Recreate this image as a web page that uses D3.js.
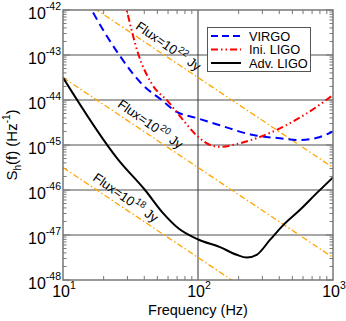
<!DOCTYPE html>
<html><head><meta charset="utf-8">
<script src="https://cdn.jsdelivr.net/npm/d3@7"></script>
<style>body{margin:0;background:#fff}svg{display:block}text{font-family:"Liberation Sans",Arial,sans-serif}</style>
</head><body><svg id="c" width="346" height="321"></svg>
<script>
// ---- data ----
const advFreq = [10, 25.7, 40.5, 55.3, 71.5, 100.5, 145.5, 193.6, 229.7, 272, 341, 428, 570, 757, 1000];
const advSh   = [3.16e-44, 4.68e-46, 1.0e-46, 3.02e-47, 1.41e-47, 7.94e-48, 5.37e-48, 3.63e-48, 3.16e-48, 3.63e-48, 7.76e-48, 1.66e-47, 3.63e-47, 8.51e-47, 1.91e-46];
const virgoFreq = [15, 16.3, 26.1, 39.1, 53.8, 67.5, 100, 145, 257, 404, 570, 802, 1000];
const virgoSh   = [1.58e-42, 1.0e-42, 1.0e-43, 2.14e-44, 1.0e-44, 5.75e-45, 3.89e-45, 2.75e-45, 1.66e-45, 1.41e-45, 1.29e-45, 1.51e-45, 2.0e-45];
const iniFreq = [28, 29.6, 36.1, 45.4, 60.3, 75.8, 100.5, 123, 145, 194, 287, 404, 637, 1000];
const iniSh   = [2.0e-42, 1.0e-42, 1.05e-43, 2.3e-44, 9.12e-45, 3.89e-45, 1.51e-45, 1.0e-45, 9.12e-46, 1.05e-45, 1.51e-45, 2.34e-45, 5.01e-45, 1.29e-44];
const fluxExp   = [22, 20, 18];
const fluxFreq  = [10, 1000];
const fluxSh    = [[3.16e-42, 3.16e-46], [3.16e-44, 3.16e-48], [3.16e-46, 3.16e-50]];
const xTickExp  = [1, 2, 3];
const yTickExp  = [-48, -47, -46, -45, -44, -43, -42];
const legendNames = ["VIRGO", "Ini. LIGO", "Adv. LIGO"];

// ---- layout ----
const L = 63, R = 333, T = 10, B = 280;
const svg = d3.select("#c");
const x = d3.scaleLog().domain([10, 1000]).range([L, R]);
const y = d3.scaleLog().domain([1e-48, 1e-42]).range([B, T]);

svg.append("defs").append("clipPath").attr("id", "clip")
  .append("rect").attr("x", L).attr("y", T).attr("width", R - L).attr("height", B - T);

// grid
const g = svg.append("g");
yTickExp.slice(1, -1).forEach(e => {
  g.append("line").attr("x1", L).attr("x2", R).attr("y1", y(Math.pow(10, e))).attr("y2", y(Math.pow(10, e)))
    .attr("stroke", "#8a8a8a").attr("stroke-width", 1.3);
});
g.append("line").attr("x1", x(100)).attr("x2", x(100)).attr("y1", T).attr("y2", B)
  .attr("stroke", "#333").attr("stroke-width", 1);

// ticks
const minorX = [], minorY = [];
[10, 100].forEach(d => { for (let k = 2; k <= 9; k++) minorX.push(d * k); });
for (let e = -48; e < -42; e++) for (let k = 2; k <= 9; k++) minorY.push(k * Math.pow(10, e));
const tk = svg.append("g").attr("stroke", "#777").attr("stroke-width", 1);
minorX.forEach(v => {
  tk.append("line").attr("x1", x(v)).attr("x2", x(v)).attr("y1", B).attr("y2", B - 4);
  tk.append("line").attr("x1", x(v)).attr("x2", x(v)).attr("y1", T).attr("y2", T + 4);
});
minorY.forEach(v => {
  tk.append("line").attr("y1", y(v)).attr("y2", y(v)).attr("x1", L).attr("x2", L + 3.5);
  tk.append("line").attr("y1", y(v)).attr("y2", y(v)).attr("x1", R).attr("x2", R - 3.5);
});
yTickExp.forEach(e => {
  const v = Math.pow(10, e);
  tk.append("line").attr("y1", y(v)).attr("y2", y(v)).attr("x1", L).attr("x2", L + 7);
  tk.append("line").attr("y1", y(v)).attr("y2", y(v)).attr("x1", R).attr("x2", R - 7);
});

// curves
const line = d3.line().x(d => x(d[0])).y(d => y(d[1])).curve(d3.curveMonotoneX);
const plot = svg.append("g").attr("clip-path", "url(#clip)");
fluxSh.forEach(vals => {
  plot.append("path").attr("d", line(fluxFreq.map((f, i) => [f, vals[i]])))
    .attr("fill", "none").attr("stroke", "#ffa500").attr("stroke-width", 1.3)
    .attr("stroke-dasharray", "6,2.5,1.5,2.5");
});
plot.append("path").attr("d", line(virgoFreq.map((f, i) => [f, virgoSh[i]])))
  .attr("fill", "none").attr("stroke", "#0000ff").attr("stroke-width", 2).attr("stroke-dasharray", "8,5");
plot.append("path").attr("d", line(iniFreq.map((f, i) => [f, iniSh[i]])))
  .attr("fill", "none").attr("stroke", "#ff0000").attr("stroke-width", 2).attr("stroke-dasharray", "7,3,1.5,3,1.5,3");
plot.append("path").attr("d", line(advFreq.map((f, i) => [f, advSh[i]])))
  .attr("fill", "none").attr("stroke", "#000").attr("stroke-width", 2);

// flux labels
const ang = Math.atan2(y(1e-44) - y(1e-42), x(100) - x(10)) * 180 / Math.PI + 1;
const labelF = [34, 25, 16.4];
fluxSh.forEach((vals, i) => {
  const f = labelF[i];
  const v = vals[0] * Math.pow(f / 10, -2);
  const px = x(f), py = y(v) - 7;
  const t = svg.append("text").attr("transform", `translate(${px},${py}) rotate(${ang})`)
    .attr("font-size", 13.2).attr("fill", "#000");
  t.append("tspan").text("Flux=10");
  t.append("tspan").attr("dy", -5.5).attr("dx", 1).attr("font-size", 9.5).text(fluxExp[i]);
  t.append("tspan").attr("dy", 5.5).text(" Jy");
});

// frame
svg.append("rect").attr("x", L).attr("y", T).attr("width", R - L).attr("height", B - T)
  .attr("fill", "none").attr("stroke", "#777").attr("stroke-width", 1.5);

// tick labels
yTickExp.forEach(e => {
  const t = svg.append("text").attr("x", 61).attr("y", y(Math.pow(10, e)) + 9)
    .attr("text-anchor", "end").attr("font-size", 16);
  t.append("tspan").text("10");
  t.append("tspan").attr("dy", -9).attr("font-size", 10.5).text(e);
});
xTickExp.forEach(e => {
  const t = svg.append("text").attr("x", x(Math.pow(10, e)) + 1).attr("y", 297)
    .attr("text-anchor", "middle").attr("font-size", 16);
  t.append("tspan").text("10");
  t.append("tspan").attr("dy", -8).attr("font-size", 10.5).text(e);
});

// axis titles
svg.append("text").attr("x", (L + R) / 2).attr("y", 315).attr("text-anchor", "middle")
  .attr("font-size", 14.5).text("Frequency (Hz)");
const yt = svg.append("text").attr("transform", `translate(17,${(T + B) / 2}) rotate(-90)`)
  .attr("text-anchor", "middle").attr("font-size", 15);
yt.append("tspan").text("S");
yt.append("tspan").attr("dy", 4).attr("font-size", 10).text("h");
yt.append("tspan").attr("dy", -4).text("(f) (Hz");
yt.append("tspan").attr("dy", -7).attr("font-size", 10).text("-1");
yt.append("tspan").attr("dy", 7).text(")");

// legend
const lg = svg.append("g");
lg.append("rect").attr("x", 207.5).attr("y", 27.5).attr("width", 103).attr("height", 44)
  .attr("fill", "#fff").attr("stroke", "#555").attr("stroke-width", 1);
const lgStyles = [
  {c: "#0000ff", d: "7,4"},
  {c: "#ff0000", d: "7,3,1.5,3,1.5,3"},
  {c: "#000", d: null}
];
legendNames.forEach((n, i) => {
  const ly = 36 + i * 13.5;
  const l = lg.append("line").attr("x1", 211).attr("x2", 241).attr("y1", ly).attr("y2", ly)
    .attr("stroke", lgStyles[i].c).attr("stroke-width", 2);
  if (lgStyles[i].d) l.attr("stroke-dasharray", lgStyles[i].d);
  lg.append("text").attr("x", 249).attr("y", ly + 4.5).attr("font-size", 12.8).text(n);
});
</script></body></html>
